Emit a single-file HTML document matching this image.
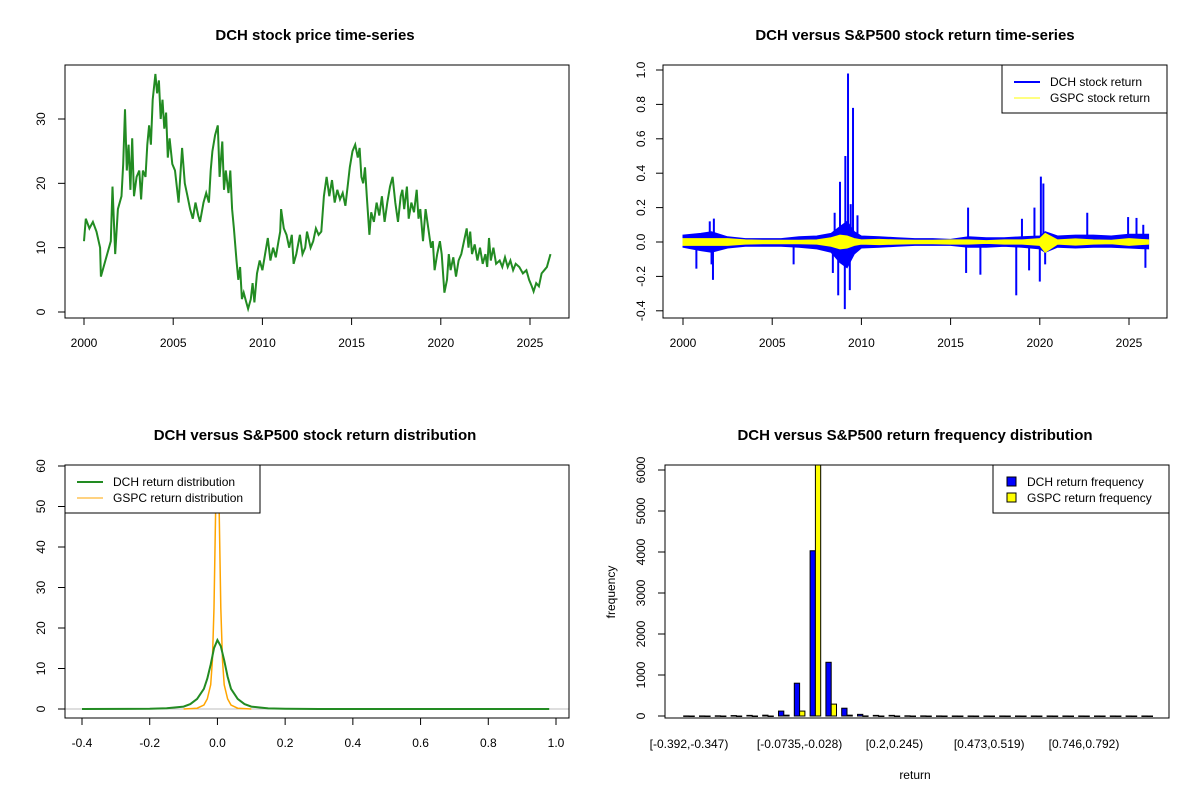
<!DOCTYPE html>
<html><head><meta charset="utf-8"><style>
body{margin:0;background:#fff;}
svg{display:block;font-family:"Liberation Sans",Arial,sans-serif;}
</style></head><body>
<svg id="c" width="1200" height="800" xmlns="http://www.w3.org/2000/svg"></svg>
<script>
// ---- panel 1 data: price ----
const priceYears=[2000,2000.1,2000.3,2000.5,2000.7,2000.9,2000.95,2001.2,2001.5,2001.6,2001.75,2001.9,2002.1,2002.2,2002.3,2002.4,2002.5,2002.6,2002.7,2002.8,2002.95,2003.1,2003.2,2003.3,2003.45,2003.55,2003.65,2003.75,2003.85,2004.0,2004.1,2004.2,2004.3,2004.4,2004.5,2004.6,2004.7,2004.8,2004.95,2005.1,2005.3,2005.5,2005.65,2005.8,2005.95,2006.1,2006.25,2006.4,2006.5,2006.7,2006.85,2007.0,2007.1,2007.2,2007.35,2007.5,2007.6,2007.75,2007.85,2007.95,2008.1,2008.2,2008.3,2008.4,2008.55,2008.65,2008.75,2008.85,2008.95,2009.1,2009.2,2009.35,2009.45,2009.55,2009.7,2009.85,2010.0,2010.15,2010.3,2010.45,2010.6,2010.75,2010.9,2011.0,2011.05,2011.2,2011.35,2011.5,2011.65,2011.75,2011.9,2012.1,2012.25,2012.4,2012.5,2012.7,2012.85,2013.0,2013.15,2013.3,2013.45,2013.6,2013.75,2013.9,2014.05,2014.2,2014.35,2014.5,2014.65,2014.8,2014.9,2015.05,2015.2,2015.35,2015.45,2015.55,2015.65,2015.75,2015.85,2016.0,2016.1,2016.25,2016.4,2016.55,2016.7,2016.85,2017.0,2017.15,2017.3,2017.45,2017.6,2017.75,2017.85,2017.95,2018.1,2018.2,2018.35,2018.5,2018.65,2018.75,2018.85,2019.0,2019.15,2019.3,2019.45,2019.55,2019.65,2019.8,2019.95,2020.05,2020.2,2020.35,2020.45,2020.55,2020.7,2020.85,2021.0,2021.15,2021.3,2021.45,2021.55,2021.65,2021.75,2021.9,2022.05,2022.2,2022.35,2022.5,2022.6,2022.7,2022.8,2022.95,2023.1,2023.3,2023.45,2023.6,2023.75,2023.9,2024.05,2024.2,2024.4,2024.6,2024.8,2024.95,2025.1,2025.2,2025.35,2025.5,2025.65,2025.8,2025.95,2026.05,2026.15];
const priceVals=[11,14.5,13,14,12.5,10,5.5,8,11,19.5,9,16,18,23,31.5,22,26,19,27,18,21,22,17.5,22,21,26,29,26,33,37,34,36,30,33,28.5,31,24,27,23,22,17,25.5,20,18,16,14.5,17,15,14,17,18.5,17,22,25,27.5,29,21,26.5,19,22,18.5,22,16,13,8,5,7,2,3,1.5,0.5,2,4.5,1.5,6,8,6.5,9,11.5,8,10,8.5,11,12.5,16,13,12,10,12,7.5,9,12,9,10,12.5,10,11,13,12,12.5,18,21,18,20.5,17,19,17.5,18.5,16.5,20,22.5,25,26,24,25.5,21,20,22.5,18,12,15.5,14,17,15,18,14,17,19.5,21,17,14,18,19,16,19.5,14.5,17,15.5,19,14.5,16,11,16,13,10,11,6.5,9,11,9,3,5,9,6.5,8.5,5.5,8,9,11,13,10,12.5,9,10.5,8,10,7.5,9,7,11.5,8,10,7.5,8,7,8.5,7,8,6.5,7.5,7,6,6.5,5,4,3.2,4.5,4,6,6.5,7,8,9];
const priceTicksX=[2000,2005,2010,2015,2020,2025];
const priceTicksY=[0,10,20,30];
// ---- panel 2 data: returns ----
const bandYears=[2000,2001,2001.6,2002.5,2003.5,2004.5,2005.5,2006.5,2007.5,2008.3,2008.8,2009.2,2009.6,2010,2011,2012,2013,2014,2015,2016,2017,2018,2019,2020,2020.3,2021,2022,2023,2024,2025,2026.1];
const dchHi=[0.04,0.05,0.06,0.03,0.02,0.02,0.02,0.03,0.035,0.05,0.09,0.12,0.06,0.035,0.03,0.025,0.02,0.02,0.015,0.03,0.025,0.025,0.03,0.035,0.06,0.035,0.04,0.04,0.035,0.045,0.045];
const dchLo=[-0.03,-0.05,-0.06,-0.035,-0.025,-0.025,-0.025,-0.03,-0.04,-0.06,-0.12,-0.15,-0.07,-0.035,-0.03,-0.025,-0.02,-0.02,-0.02,-0.03,-0.03,-0.025,-0.03,-0.04,-0.06,-0.03,-0.035,-0.03,-0.03,-0.035,-0.04];
const spYears=[2000.75,2001.5,2001.6,2001.68,2001.73,2006.2,2008.4,2008.5,2008.7,2008.8,2009.07,2009.1,2009.25,2009.35,2009.4,2009.53,2009.78,2015.87,2015.98,2016.67,2018.68,2019.0,2019.4,2019.7,2020.0,2020.06,2020.2,2020.3,2022.66,2024.95,2025.42,2025.8,2025.92];
const spVals=[-0.155,0.12,-0.13,-0.22,0.136,-0.13,-0.18,0.17,-0.31,0.35,-0.39,0.5,0.98,-0.28,0.22,0.78,0.155,-0.18,0.2,-0.19,-0.31,0.135,-0.165,0.2,-0.23,0.38,0.34,-0.13,0.17,0.145,0.14,0.1,-0.15];
const gspcHi=[0.02,0.02,0.02,0.02,0.012,0.01,0.01,0.01,0.012,0.025,0.04,0.035,0.02,0.012,0.015,0.012,0.01,0.01,0.012,0.012,0.008,0.012,0.012,0.02,0.05,0.012,0.018,0.012,0.01,0.02,0.012];
const gspcLo=[-0.02,-0.02,-0.02,-0.02,-0.012,-0.01,-0.01,-0.01,-0.012,-0.025,-0.04,-0.035,-0.02,-0.012,-0.015,-0.012,-0.01,-0.01,-0.012,-0.012,-0.008,-0.012,-0.012,-0.02,-0.06,-0.012,-0.018,-0.012,-0.01,-0.02,-0.012];
const retTicksY=[-0.4,-0.2,0.0,0.2,0.4,0.6,0.8,1.0];
// ---- panel 3 data: density ----
const dchDensX=[-0.4,-0.2,-0.15,-0.1,-0.08,-0.06,-0.04,-0.03,-0.02,-0.01,0,0.01,0.02,0.03,0.04,0.06,0.08,0.1,0.15,0.2,0.3,0.98];
const dchDensY=[0,0.05,0.2,0.6,1.2,2.5,5,7.5,11,15,17,15.5,12,8,5,2.5,1.2,0.6,0.15,0.05,0,0];
const gspcDensX=[-0.1,-0.06,-0.04,-0.03,-0.02,-0.015,-0.01,-0.005,0,0.005,0.01,0.015,0.02,0.03,0.04,0.06,0.1];
const gspcDensY=[0,0.2,1,2.5,6,12,25,50,65,50,25,12,6,2.5,1,0.2,0];
const densTicksX=[-0.4,-0.2,0.0,0.2,0.4,0.6,0.8,1.0];
const densTicksY=[0,10,20,30,40,50,60];
// ---- panel 4 data: histogram ----
const binLabels=["[-0.392,-0.347)","[-0.0735,-0.028)","[0.2,0.245)","[0.473,0.519)","[0.746,0.792)"];
const binLabelIdx=[0,7,13,19,25];
const dchCounts=[2,2,5,10,15,20,120,800,4030,1310,190,40,15,15,5,3,2,1,1,1,1,1,1,1,1,1,1,1,1,1];
const gspcCounts=[0,0,0,0,0,0,20,120,6130,290,20,2,0,0,0,0,0,0,0,0,0,0,0,0,0,0,0,0,0,0];
const freqTicks=[0,1000,2000,3000,4000,5000,6000];

const svg=document.getElementById('c');
const NS='http://www.w3.org/2000/svg';
function mk(tag,attrs,name,parent){const e=document.createElementNS(NS,tag);for(const k in attrs)e.setAttribute(k,attrs[k]);


(parent||svg).appendChild(e);return e;}
function txt(x,y,s,name,opt){opt=opt||{};const t=mk('text',{x:x,y:y,'font-size':opt.size||12,'text-anchor':opt.anchor||'middle','font-weight':opt.bold?'bold':'normal',fill:'#000'},name);
if(opt.rot)t.setAttribute('transform','rotate(-90 '+x+' '+y+')');t.textContent=s;return t;}
function box(x0,y0,x1,y1,name){mk('rect',{x:x0,y:y0,width:x1-x0,height:y1-y0,fill:'none',stroke:'#000','stroke-width':1},name);}
function lin(a,b,c,d){return v=>c+(v-a)*(d-c)/(b-a);}
function clip(id,x0,y0,x1,y1){const d=mk('clipPath',{id:id},'clip-'+id);mk('rect',{x:x0,y:y0,width:x1-x0,height:y1-y0},'clip-rect',d);}
function fmt(v,dec){return v.toFixed(dec);}

// ===== Panel 1 =====
{const X=lin(2000,2025,84,530),Y=lin(0,30,312,119);
txt(315,40,'DCH stock price time-series','title-price',{bold:true,size:15});
clip('c1',65,65,569,318);
let d=priceYears.map((y,i)=>(i?'L':'M')+X(y).toFixed(1)+','+Y(priceVals[i]).toFixed(1)).join('');
mk('path',{d:d,fill:'none',stroke:'#228B22','stroke-width':2,'clip-path':'url(#c1)'},'price-line');
box(65,65,569,318,'price-plot-frame');
priceTicksX.forEach(v=>{mk('line',{x1:X(v),x2:X(v),y1:318,y2:325,stroke:'#000'},'x-tick');txt(X(v),347,String(v),'x-tick-label');});
priceTicksY.forEach(v=>{mk('line',{x1:58,x2:65,y1:Y(v),y2:Y(v),stroke:'#000'},'y-tick');txt(45,Y(v),String(v),'y-tick-label',{rot:true});});
}
// ===== Panel 2 =====
{const X=lin(2000,2025,683,1129),Y=lin(0,0.2,242,207.6);
txt(915,40,'DCH versus S&P500 stock return time-series','title-returns',{bold:true,size:15});
clip('c2',663,65,1167,318);
const g=mk('g',{'clip-path':'url(#c2)'},'returns-series');
let up=bandYears.map((y,i)=>(i?'L':'M')+X(y).toFixed(1)+','+Y(dchHi[i]).toFixed(1)).join('');
let dn=bandYears.slice().reverse().map((y,j)=>{const i=bandYears.length-1-j;return 'L'+X(y).toFixed(1)+','+Y(dchLo[i]).toFixed(1);}).join('');
mk('path',{d:up+dn+'Z',fill:'#0000FF',stroke:'#0000FF','stroke-width':1},'dch-return-band',g);
spYears.forEach((y,i)=>{mk('line',{x1:X(y),x2:X(y),y1:Y(0),y2:Y(spVals[i]),stroke:'#0000FF','stroke-width':2},'dch-return-spike',g);});
let gu=bandYears.map((y,i)=>(i?'L':'M')+X(y).toFixed(1)+','+Y(gspcHi[i]).toFixed(1)).join('');
let gd=bandYears.slice().reverse().map((y,j)=>{const i=bandYears.length-1-j;return 'L'+X(y).toFixed(1)+','+Y(gspcLo[i]).toFixed(1);}).join('');
mk('path',{d:gu+gd+'Z',fill:'#FFFF00',stroke:'#FFFF00','stroke-width':1},'gspc-return-band',g);
box(663,65,1167,318,'returns-plot-frame');
priceTicksX.forEach(v=>{mk('line',{x1:X(v),x2:X(v),y1:318,y2:325,stroke:'#000'},'x-tick');txt(X(v),347,String(v),'x-tick-label');});
retTicksY.forEach(v=>{mk('line',{x1:656,x2:663,y1:Y(v),y2:Y(v),stroke:'#000'},'y-tick');txt(645,Y(v),fmt(v,1),'y-tick-label',{rot:true});});
mk('rect',{x:1002,y:65,width:165,height:48,fill:'#fff',stroke:'#000'},'returns-legend-box');
mk('line',{x1:1014,x2:1040,y1:82,y2:82,stroke:'#0000FF','stroke-width':2},'legend-dch-swatch');
txt(1050,86,'DCH stock return','legend-dch-label',{anchor:'start'});
mk('line',{x1:1014,x2:1040,y1:98,y2:98,stroke:'#FFFF00','stroke-width':1},'legend-gspc-swatch');
txt(1050,102,'GSPC stock return','legend-gspc-label',{anchor:'start'});
}
// ===== Panel 3 =====
{const X=lin(-0.4,1.0,82,556),Y=lin(0,10,709,668.5);
txt(315,440,'DCH versus S&P500 stock return distribution','title-distribution',{bold:true,size:15});
clip('c3',65,465,569,718);
mk('line',{x1:65,x2:569,y1:Y(0),y2:Y(0),stroke:'#BEBEBE'},'zero-density-line');
let d1=dchDensX.map((x,i)=>(i?'L':'M')+X(x).toFixed(1)+','+Y(dchDensY[i]).toFixed(1)).join('');
let d2=gspcDensX.map((x,i)=>(i?'L':'M')+X(x).toFixed(1)+','+Y(gspcDensY[i]).toFixed(1)).join('');
mk('path',{d:d2,fill:'none',stroke:'#FFA500','stroke-width':1.5,'clip-path':'url(#c3)'},'gspc-density-line');
mk('path',{d:d1,fill:'none',stroke:'#228B22','stroke-width':2,'clip-path':'url(#c3)'},'dch-density-line');
box(65,465,569,718,'distribution-plot-frame');
densTicksX.forEach(v=>{mk('line',{x1:X(v),x2:X(v),y1:718,y2:725,stroke:'#000'},'x-tick');txt(X(v),747,fmt(v,1),'x-tick-label');});
densTicksY.forEach(v=>{mk('line',{x1:58,x2:65,y1:Y(v),y2:Y(v),stroke:'#000'},'y-tick');txt(45,Y(v),String(v),'y-tick-label',{rot:true});});
mk('rect',{x:65,y:465,width:195,height:48,fill:'#fff',stroke:'#000'},'distribution-legend-box');
mk('line',{x1:77,x2:103,y1:482,y2:482,stroke:'#228B22','stroke-width':2},'legend-dch-swatch');
txt(113,486,'DCH return distribution','legend-dch-label',{anchor:'start'});
mk('line',{x1:77,x2:103,y1:498,y2:498,stroke:'#FFA500','stroke-width':1},'legend-gspc-swatch');
txt(113,502,'GSPC return distribution','legend-gspc-label',{anchor:'start'});
}
// ===== Panel 4 =====
{const Y=lin(0,1000,716,675),C=i=>689+i*15.8,bw=5.3;
txt(915,440,'DCH versus S&P500 return frequency distribution','title-frequency',{bold:true,size:15});
clip('c4',665,465,1169,718);
const g=mk('g',{'clip-path':'url(#c4)'},'histogram-bars');
dchCounts.forEach((v,i)=>{mk('rect',{x:C(i)-bw,y:Y(v),width:bw,height:Math.max(Y(0)-Y(v),0.5),fill:'#0000FF',stroke:'#000','stroke-width':1},'bar-dch-bin-'+i,g);});
gspcCounts.forEach((v,i)=>{mk('rect',{x:C(i),y:Y(v),width:bw,height:Math.max(Y(0)-Y(v),0.5),fill:'#FFFF00',stroke:'#000','stroke-width':1},'bar-gspc-bin-'+i,g);});
box(665,465,1169,718,'frequency-plot-frame');
freqTicks.forEach(v=>{mk('line',{x1:658,x2:665,y1:Y(v),y2:Y(v),stroke:'#000'},'y-tick');txt(645,Y(v),String(v),'y-tick-label',{rot:true});});
binLabelIdx.forEach((b,i)=>txt(C(b),748,binLabels[i],'x-bin-label'));
txt(915,779,'return','x-axis-title');
txt(615,592,'frequency','y-axis-title',{rot:true});
mk('rect',{x:993,y:465,width:176,height:48,fill:'#fff',stroke:'#000'},'frequency-legend-box');
mk('rect',{x:1007,y:477,width:9,height:9,fill:'#0000FF',stroke:'#000'},'legend-dch-swatch');
txt(1027,486,'DCH return frequency','legend-dch-label',{anchor:'start'});
mk('rect',{x:1007,y:493,width:9,height:9,fill:'#FFFF00',stroke:'#000'},'legend-gspc-swatch');
txt(1027,502,'GSPC return frequency','legend-gspc-label',{anchor:'start'});
}
</script>
</body></html>
